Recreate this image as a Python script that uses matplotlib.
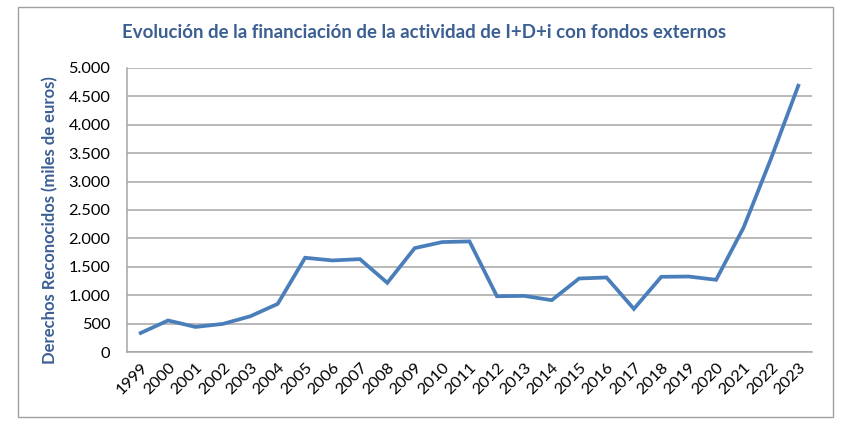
import matplotlib
matplotlib.use("Agg")
import matplotlib.pyplot as plt
from matplotlib.patches import Rectangle
from matplotlib.ticker import FuncFormatter

plt.rcParams["font.family"] = ["Lato", "DejaVu Sans"]

# ── Data ─────────────────────────────────────────────────────────────────────
years = [str(y) for y in range(1999, 2024)]
values = [335, 555, 441, 495, 629, 847, 1659, 1612, 1635, 1218,
          1829, 1935, 1947, 982, 988, 912, 1294, 1312, 759, 1324,
          1329, 1271, 2188, 3400, 4688]
y_ticks = list(range(0, 5001, 500))

TITLE = "Evolución de la financiación de la actividad de I+D+i con fondos externos"
Y_LABEL = "Derechos Reconocidos (miles de euros)"
BLUE_LINE = "#4A7EBB"
BLUE_TEXT = "#3B5F93"
GRID = "#A6A6A6"

# ── Plot ─────────────────────────────────────────────────────────────────────
fig = plt.figure(figsize=(8.5, 4.32), dpi=100)
fig.patches.append(Rectangle((18 / 850, 1 - 417 / 432), 815 / 850, 410 / 432,
                             transform=fig.transFigure, fill=False,
                             edgecolor="#A0A0A0", linewidth=1.0))

ax = fig.add_axes([127 / 850, 1 - 352 / 432, 685 / 850, 284 / 432])
x = range(len(years))
ax.plot(x, values, color=BLUE_LINE, linewidth=2.7, solid_joinstyle="miter")

ax.set_xlim(-0.5, len(years) - 0.5)
ax.set_ylim(0, 5000)
ax.set_yticks(y_ticks)
ax.yaxis.set_major_formatter(FuncFormatter(lambda v, p: f"{int(v):,}".replace(",", ".")))
ax.set_xticks(list(x))
ax.set_xticklabels(years, rotation=45, ha="right", va="top",
                   rotation_mode="anchor")
ax.tick_params(axis="both", labelsize=11.8, length=0, colors="black")
ax.tick_params(axis="x", pad=6)
ax.tick_params(axis="y", pad=12)

ax.grid(axis="y", color=GRID, linewidth=1.1)
ax.set_axisbelow(True)
for side in ["top", "right"]:
    ax.spines[side].set_visible(False)
for side in ["left", "bottom"]:
    ax.spines[side].set_color(GRID)
    ax.spines[side].set_linewidth(1.1)

ax.set_ylabel(Y_LABEL, color=BLUE_TEXT, fontsize=12, fontweight="bold")
ax.yaxis.set_label_coords(-0.101, 0.465)
fig.text(424 / 850, 1 - 32 / 432, TITLE, color=BLUE_TEXT, fontsize=13.4,
         fontweight="bold", ha="center", va="center")

fig.savefig("out.png", dpi=100)
